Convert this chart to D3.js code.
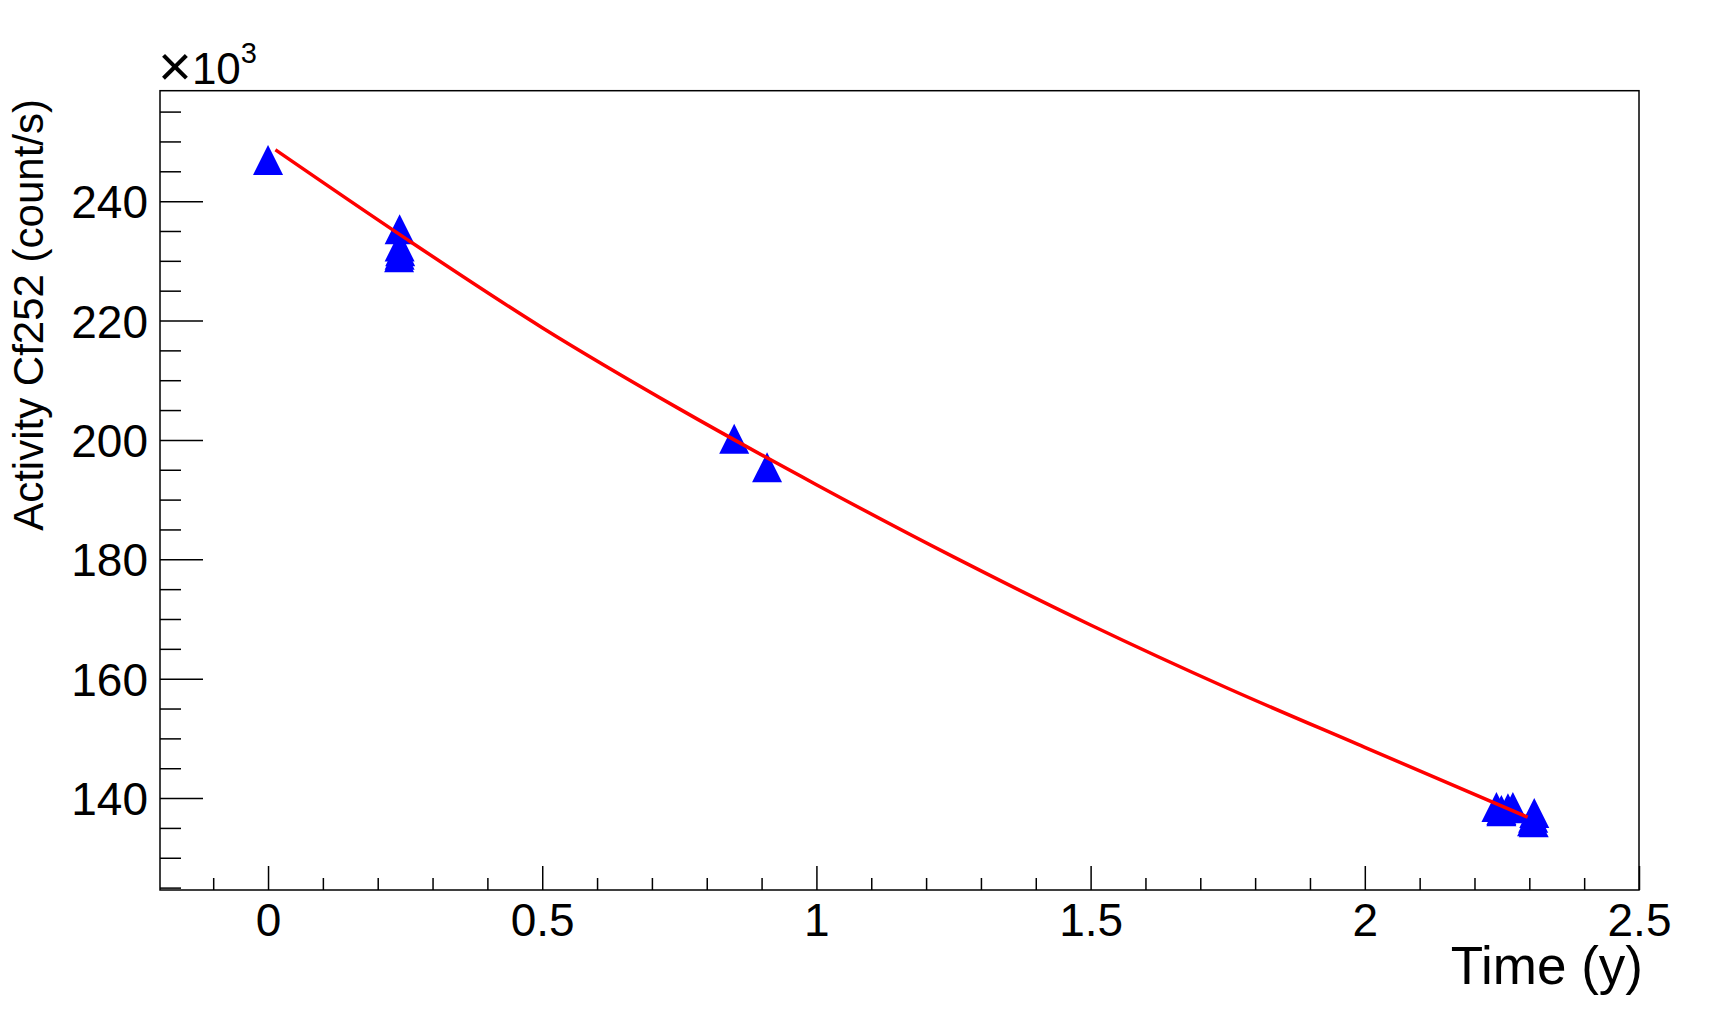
<!DOCTYPE html>
<html>
<head>
<meta charset="utf-8">
<script src="https://cdnjs.cloudflare.com/ajax/libs/d3/7.8.5/d3.min.js"></script>
<style>
  body { margin: 0; background: #fff; }
  svg { display: block; font-family: "Liberation Sans", Arial, sans-serif; }
</style>
</head>
<body>
<div class="content-container"></div>
<script>
// measured points (time in years, activity in 10^3 counts/s)
const timeYears = [0, 0.240, 0.240, 0.241, 0.240, 0.239, 0.850, 0.910,
                   2.240, 2.249, 2.249, 2.261, 2.270, 2.309, 2.307, 2.305, 2.308];
const activity = [246.9, 235.3, 232.4, 231.6, 231.0, 230.6, 200.2, 195.4,
                  138.5, 138.0, 137.8, 138.3, 138.5, 137.5, 136.7, 136.1, 135.95];

// fit curve
const fitTime = [0.0135, 0.25, 0.5, 0.75, 1.0, 1.25, 1.5, 1.75, 2.0, 2.297];
const fitActivity = [248.6, 233.8, 218.8, 205.2, 192.5, 180.4, 169.0, 158.4, 148.5, 136.8];

const xMajor = [0, 0.5, 1, 1.5, 2, 2.5];
const xMinor = [-0.1, 0.1, 0.2, 0.3, 0.4, 0.6, 0.7, 0.8, 0.9, 1.1, 1.2, 1.3, 1.4,
                1.6, 1.7, 1.8, 1.9, 2.1, 2.2, 2.3, 2.4];
const yMajor = [140, 160, 180, 200, 220, 240];
const yMinor = [125, 130, 135, 145, 150, 155, 165, 170, 175, 185, 190, 195,
                205, 210, 215, 225, 230, 235, 245, 250, 255];

const width = 1731;
const height = 1016;
const padLeft = 160, padRight = 1639, padTop = 90.7, padBottom = 890;

const xScale = d3.scaleLinear().domain([-0.197, 2.5]).range([padLeft, padRight]);
const yScale = d3.scaleLinear().domain([124.6, 258.5]).range([padBottom, padTop]);

const chart = d3.select(".content-container")
  .append("svg")
  .attr("width", width)
  .attr("height", height);

// FRAME
chart.append("rect")
  .attr("x", padLeft).attr("y", padTop)
  .attr("width", padRight - padLeft).attr("height", padBottom - padTop)
  .attr("fill", "none").attr("stroke", "#000").attr("stroke-width", 1.5);

// X AXIS
const xg = chart.append("g")
  .attr("transform", "translate(0," + padBottom + ")")
  .call(d3.axisBottom(xScale).tickValues(xMajor).tickSize(-24).tickFormat(d3.format("")));
xg.select(".domain").remove();
xg.selectAll("line").attr("stroke-width", 1.5);
xg.selectAll("text")
  .attr("y", 45.7).attr("dy", null)
  .attr("font-family", "Liberation Sans, Arial, sans-serif")
  .attr("font-size", 46).attr("fill", "#000");

const xgm = chart.append("g")
  .attr("transform", "translate(0," + padBottom + ")")
  .call(d3.axisBottom(xScale).tickValues(xMinor).tickSize(-12).tickFormat(""));
xgm.select(".domain").remove();
xgm.selectAll("line").attr("stroke-width", 1.5);

// Y AXIS
const yg = chart.append("g")
  .attr("transform", "translate(" + padLeft + ",0)")
  .call(d3.axisLeft(yScale).tickValues(yMajor).tickSize(-43).tickPadding(12));
yg.select(".domain").remove();
yg.selectAll("line").attr("stroke-width", 1.5);
yg.selectAll("text")
  .attr("x", -12).attr("dy", "0.36em")
  .attr("font-family", "Liberation Sans, Arial, sans-serif")
  .attr("font-size", 46).attr("fill", "#000");

const ygm = chart.append("g")
  .attr("transform", "translate(" + padLeft + ",0)")
  .call(d3.axisLeft(yScale).tickValues(yMinor).tickSize(-21).tickFormat(""));
ygm.select(".domain").remove();
ygm.selectAll("line").attr("stroke-width", 1.5);

// exponent label
const expo = chart.append("text")
  .attr("x", padLeft - 2).attr("y", 84)
  .attr("font-size", 44);
expo.append("tspan").attr("font-size", 58).attr("dy", 2).text("\u00d7");
expo.append("tspan").attr("dy", -2).text("10");
expo.append("tspan").attr("font-size", 29).attr("dy", -21).text("3");

// TITLES
chart.append("text")
  .attr("x", 1643).attr("y", 984)
  .attr("text-anchor", "end")
  .attr("font-size", 53)
  .text("Time (y)");

chart.append("text")
  .attr("transform", "translate(43,99) rotate(-90)")
  .attr("text-anchor", "end")
  .attr("font-size", 42)
  .text("Activity Cf252 (count/s)");

// MARKERS
const r = 15;
chart.selectAll("path.marker")
  .data(timeYears)
  .enter()
  .append("path")
  .attr("class", "marker")
  .attr("d", (d, i) => {
    const cx = xScale(d), cy = yScale(activity[i]);
    return "M" + cx + "," + (cy - r) + "L" + (cx - r) + "," + (cy + r) + "L" + (cx + r) + "," + (cy + r) + "Z";
  })
  .attr("fill", "#0000ff");

// FIT LINE (drawn over the markers)
const fitLine = d3.line()
  .x((d, i) => xScale(fitTime[i]))
  .y((d, i) => yScale(fitActivity[i]))
  .curve(d3.curveMonotoneX);

chart.append("path")
  .datum(fitTime)
  .attr("d", fitLine)
  .attr("fill", "none")
  .attr("stroke", "#ff0000")
  .attr("stroke-width", 3.5);
</script>
</body>
</html>
